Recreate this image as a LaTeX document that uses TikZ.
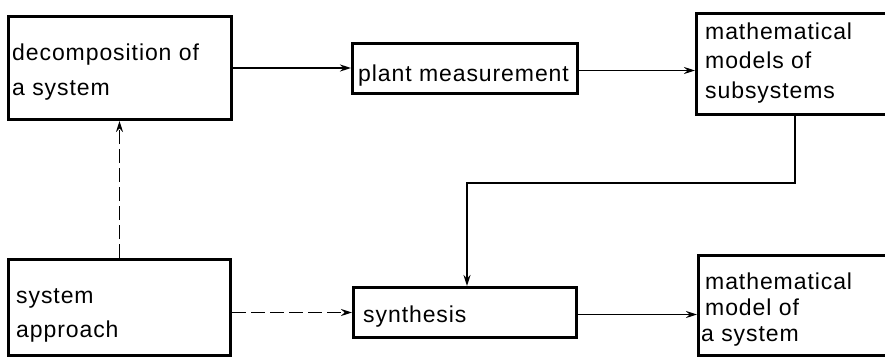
\documentclass[tikz,border=0pt]{standalone}
\usepackage{fontspec}
\setmainfont{Liberation Sans}
\newfontfamily\lblfont[LetterSpace=4]{Liberation Sans}
\usetikzlibrary{arrows.meta}
\tikzset{
  box/.style={draw, line width=3pt, anchor=north west, inner sep=0pt},
  lbl/.style={anchor=base west, inner sep=0pt, font=\lblfont\fontsize{23}{27}\selectfont},
  arr/.style={line width=1.8pt, -{Stealth[length=11pt,width=7pt]}},
  dsh/.style={dash pattern=on 14pt off 5pt}
}
\begin{document}
\begin{tikzpicture}[x=1pt,y=-1pt]
\useasboundingbox (0,0) rectangle (885,356);
% boxes
\node[box, minimum width=223pt, minimum height=103pt] (A) at (7,15) {};
\node[box, minimum width=225pt, minimum height=50pt] (B) at (351,42) {};
\node[box, minimum width=205pt, minimum height=101pt] (C) at (695,12) {};
\node[box, minimum width=222pt, minimum height=96pt] (D) at (7,258) {};
\node[box, minimum width=223pt, minimum height=50pt] (E) at (352,286) {};
\node[box, minimum width=205pt, minimum height=100pt] (F) at (697,254) {};
% texts
\node[lbl] (a1) at (12,60) {decomposition of};
\node[lbl] (a2) at (12,95) {a system};
\node[lbl] (b1) at (358,81) {plant measurement};
\node[lbl] (c1) at (705,39) {mathematical};
\node[lbl] (c2) at (705,68) {models of};
\node[lbl] (c3) at (705,98) {subsystems};
\node[lbl] (d1) at (16,303) {system};
\node[lbl] (d2) at (16,337) {approach};
\node[lbl] (e1) at (363,322) {synthesis};
\node[lbl] (f1) at (705,289) {mathematical};
\node[lbl] (f2) at (705,315) {model of};
\node[lbl] (f3) at (701,341) {a system};
% connectors
\draw[arr] (A.east) -- (A.east -| B.west);
\draw[arr] ([yshift=-2pt]B.east) -- ([yshift=-2pt]B.east -| C.west);
\coordinate (cd) at (795,183);
\draw[arr] (C.south -| cd) -- (cd) -| ([xshift=2pt]E.north);
\draw[arr,dsh] (D.north) -- (D.north |- A.south);
\draw[arr,dsh] (D.east |- E.west) -- (E.west);
\draw[arr] ([yshift=-2pt]E.east) -- ([yshift=-2pt]E.east -| F.west);
\end{tikzpicture}
\end{document}
